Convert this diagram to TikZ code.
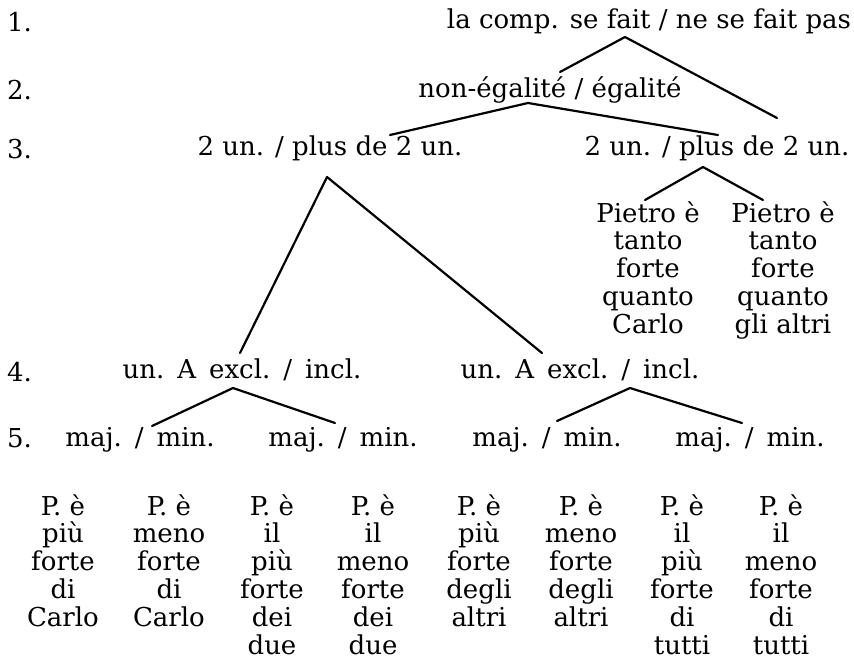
\documentclass[tikz,border=0pt]{standalone}
\usepackage{fontspec}
\setmainfont{DejaVu Serif}
\newcommand{\stk}[1]{\vtop{\baselineskip=27.8pt\lineskiplimit=-\maxdimen\lineskip=0pt\halign{\hfil##\hfil\cr#1\crcr}}}
\newcommand{\gp}{\hspace{0.5em}}
\begin{document}
\begin{tikzpicture}[x=1pt,y=-1pt,
  every node/.style={inner sep=0pt, font=\fontsize{26}{27.8}\selectfont},
  lbl/.style={anchor=base},
  num/.style={anchor=base west},
  leaf/.style={anchor=base},
  br/.style={line width=2.2pt, line cap=round, line join=round}]
\useasboundingbox (0,0) rectangle (854,659);
% row numbers
\node[num] (n1) at (7,31) {1.};
\node[num] (n2) at (7,99) {2.};
\node[num] (n3) at (7,158) {3.};
\node[num] (n4) at (7,381) {4.};
\node[num] (n5) at (7,447) {5.};
% rows
\node[lbl] (r1) at (649,28) {la comp. se fait / ne se fait pas};
\node[lbl] (r2) at (550,97) {non-égalité / égalité};
\node[lbl] (r3a) at (330,155) {2 un. / plus de 2 un.};
\node[lbl] (r3b) at (717,155) {2 un. / plus de 2 un.};
\node[leaf] (pa) at (648,222) {\stk{Pietro è\cr tanto\cr forte\cr quanto\cr Carlo}};
\node[leaf] (pb) at (783,222) {\stk{Pietro è\cr tanto\cr forte\cr quanto\cr gli altri}};
\node[lbl] (r4a) at (242,378) {un.\gp A\gp excl.\gp /\gp incl.};
\node[lbl] (r4b) at (580,378) {un.\gp A\gp excl.\gp /\gp incl.};
\node[lbl] (r5a) at (140,446) {maj.\gp /\gp min.};
\node[lbl] (r5b) at (343,446) {maj.\gp /\gp min.};
\node[lbl] (r5c) at (547,446) {maj.\gp /\gp min.};
\node[lbl] (r5d) at (750,446) {maj.\gp /\gp min.};
% leaves
\node[leaf] (l1) at (63,515) {\stk{P.\ è\cr più\cr forte\cr di\cr Carlo}};
\node[leaf] (l2) at (169,515) {\stk{P.\ è\cr meno\cr forte\cr di\cr Carlo}};
\node[leaf] (l3) at (272,515) {\stk{P.\ è\cr il\cr più\cr forte\cr dei\cr due}};
\node[leaf] (l4) at (373,515) {\stk{P.\ è\cr il\cr meno\cr forte\cr dei\cr due}};
\node[leaf] (l5) at (479,515) {\stk{P.\ è\cr più\cr forte\cr degli\cr altri}};
\node[leaf] (l6) at (581,515) {\stk{P.\ è\cr meno\cr forte\cr degli\cr altri}};
\node[leaf] (l7) at (682,515) {\stk{P.\ è\cr il\cr più\cr forte\cr di\cr tutti}};
\node[leaf] (l8) at (781,515) {\stk{P.\ è\cr il\cr meno\cr forte\cr di\cr tutti}};
% branch points
\coordinate (a1) at (625,37);
\coordinate (a1l) at (560,72);
\coordinate (a1r) at (777,118);
\coordinate (a2) at (528,103);
\coordinate (a2l) at (390,135);
\coordinate (a2r) at (718,135);
\coordinate (a3) at (327,177);
\coordinate (a3l) at (240,353);
\coordinate (a3r) at (542,353);
\coordinate (a3b) at (703,167);
\coordinate (a3bl) at (645,200);
\coordinate (a3br) at (763,200);
\coordinate (a4) at (233,388);
\coordinate (a4l) at (152,426);
\coordinate (a4r) at (335,423);
\coordinate (a4b) at (630,388);
\coordinate (a4bl) at (557,421);
\coordinate (a4br) at (742,423);
\draw[br] (a1l) -- (a1) -- (a1r);
\draw[br] (a2l) -- (a2) -- (a2r);
\draw[br] (a3l) -- (a3) -- (a3r);
\draw[br] (a3bl) -- (a3b) -- (a3br);
\draw[br] (a4l) -- (a4) -- (a4r);
\draw[br] (a4bl) -- (a4b) -- (a4br);
\end{tikzpicture}
\end{document}
